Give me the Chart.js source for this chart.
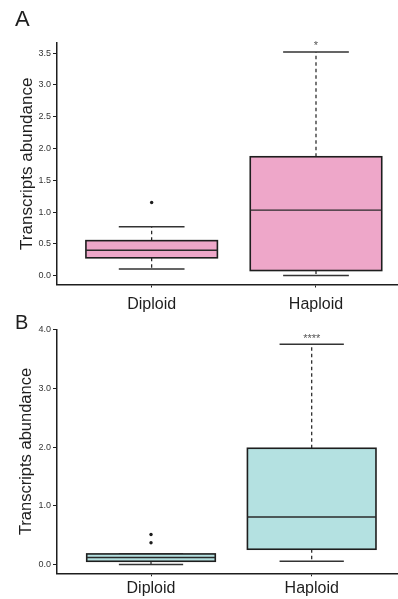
<!DOCTYPE html>
<html>
<head>
<meta charset="utf-8">
<script src="https://cdn.jsdelivr.net/npm/chart.js@4.4.1/dist/chart.umd.min.js"></script>
<style>
  html, body { margin: 0; padding: 0; background: #ffffff; }
  #wrap { position: relative; width: 398px; height: 599px; overflow: hidden; }
  canvas { position: absolute; left: 0; }
  #cA { top: 0; }
  #cB { top: 312px; }
</style>
</head>
<body>
<div id="wrap">
  <canvas id="cA" width="398" height="312"></canvas>
  <canvas id="cB" width="398" height="287"></canvas>
</div>
<script>
// Groups shown on the x axis
const categories = ['Diploid', 'Haploid'];

// Panel A: box-plot summaries per group
const aLow    = [0.105, 0.00];
const aQ1     = [0.28, 0.08];
const aMedian = [0.40, 1.03];
const aQ3     = [0.55, 1.87];
const aHigh   = [0.77, 3.52];
const aOutliers = [[1.15], []];
const aStars  = ['', '*'];
const aTicks  = [0.0, 0.5, 1.0, 1.5, 2.0, 2.5, 3.0, 3.5];

// Panel B: box-plot summaries per group
const bLow    = [0.00, 0.055];
const bQ1     = [0.055, 0.26];
const bMedian = [0.12, 0.81];
const bQ3     = [0.18, 1.98];
const bHigh   = [0.18, 3.75];
const bOutliers = [[0.51, 0.37], []];
const bStars  = ['', '****'];
const bTicks  = [0.0, 1.0, 2.0, 3.0, 4.0];

const FONT = "'Liberation Sans', Arial, Helvetica, sans-serif";
const INK = '#1e1e1e';

// Draws boxes, whiskers, caps, medians and significance stars from the summaries
function boxPlugin(id, s) {
  return {
    id: id,
    beforeDatasetsDraw(chart) {
      const { ctx, scales: { x, y } } = chart;
      const half = s.boxWidth / 2, capHalf = s.capWidth / 2;
      ctx.save();
      s.low.forEach((_, i) => {
        const pos = i + 1;
        const cx = x.getPixelForValue(pos);
        const bl = x.getPixelForValue(pos - half), br = x.getPixelForValue(pos + half);
        const cl = x.getPixelForValue(pos - capHalf), cr = x.getPixelForValue(pos + capHalf);
        const yLo = y.getPixelForValue(s.low[i]), yQ1 = y.getPixelForValue(s.q1[i]);
        const yMed = y.getPixelForValue(s.median[i]), yQ3 = y.getPixelForValue(s.q3[i]);
        const yHi = y.getPixelForValue(s.high[i]);

        // dashed whiskers
        ctx.strokeStyle = INK;
        ctx.lineWidth = 1.2;
        ctx.setLineDash([3.5, 3]);
        ctx.beginPath();
        ctx.moveTo(cx, yQ3); ctx.lineTo(cx, yHi);
        ctx.moveTo(cx, yQ1); ctx.lineTo(cx, yLo);
        ctx.stroke();
        ctx.setLineDash([]);

        // caps
        ctx.strokeStyle = '#333333';
        ctx.lineWidth = 1.5;
        ctx.beginPath();
        ctx.moveTo(cl, yHi); ctx.lineTo(cr, yHi);
        ctx.moveTo(cl, yLo); ctx.lineTo(cr, yLo);
        ctx.stroke();

        // box
        ctx.fillStyle = s.fill;
        ctx.fillRect(bl, yQ3, br - bl, yQ1 - yQ3);
        ctx.strokeStyle = INK;
        ctx.lineWidth = 1.6;
        ctx.strokeRect(bl, yQ3, br - bl, yQ1 - yQ3);

        // median
        ctx.lineWidth = 1.4;
        ctx.strokeStyle = '#2a2a2a';
        ctx.beginPath();
        ctx.moveTo(bl, yMed); ctx.lineTo(br, yMed);
        ctx.stroke();

        // significance marks
        if (s.stars[i]) {
          ctx.fillStyle = '#555555';
          ctx.font = '11px ' + FONT;
          ctx.textAlign = 'center';
          ctx.textBaseline = 'alphabetic';
          ctx.fillText(s.stars[i], cx, yHi - 2.5);
        }
      });
      ctx.restore();
    },
    afterDraw(chart) {
      // panel letter
      const ctx = chart.ctx;
      ctx.save();
      ctx.fillStyle = INK;
      ctx.font = s.letterSize + 'px ' + FONT;
      ctx.textAlign = 'left';
      ctx.textBaseline = 'alphabetic';
      ctx.fillText(s.letter, 15, s.letterBase);
      ctx.restore();
    }
  };
}

function outlierPoints(outliers) {
  const pts = [];
  outliers.forEach((vals, i) => vals.forEach(v => pts.push({ x: i + 1, y: v })));
  return pts;
}

function makePanel(canvasId, cfg) {
  return new Chart(document.getElementById(canvasId), {
    type: 'scatter',
    data: {
      datasets: [{
        data: outlierPoints(cfg.outliers),
        pointRadius: 1.7,
        pointBackgroundColor: INK,
        pointBorderWidth: 0,
        showLine: false
      }]
    },
    options: {
      responsive: false,
      animation: false,
      events: [],
      layout: { autoPadding: false, padding: { top: cfg.padTop, left: 0, right: 0, bottom: 0 } },
      plugins: { legend: { display: false }, tooltip: { enabled: false } },
      scales: {
        x: {
          type: 'linear',
          min: cfg.xMin,
          max: cfg.xMax,
          afterBuildTicks: sc => { sc.ticks = categories.map((c, i) => ({ value: i + 1 })); },
          afterFit: sc => { sc.height = cfg.xHeight; },
          ticks: {
            callback: v => categories[Math.round(v) - 1],
            font: { size: 16, family: FONT },
            color: INK,
            padding: cfg.xPad,
            autoSkip: false,
            maxRotation: 0
          },
          grid: { drawOnChartArea: false, drawTicks: true, tickLength: 3, color: INK, lineWidth: 1 },
          border: { display: true, color: INK, width: 1.5 }
        },
        y: {
          min: cfg.yMin,
          max: cfg.yMax,
          afterBuildTicks: sc => { sc.ticks = cfg.yTicks.map(v => ({ value: v })); },
          afterFit: sc => { sc.width = 57; },
          ticks: {
            callback: v => v.toFixed(1),
            font: { size: 9, family: FONT },
            color: '#333333',
            padding: 2
          },
          grid: { drawOnChartArea: false, drawTicks: true, tickLength: 4, color: INK, lineWidth: 1 },
          border: { display: true, color: INK, width: 1.5 },
          title: {
            display: true,
            text: 'Transcripts abundance',
            font: { size: cfg.titleSize, family: FONT },
            color: INK,
            padding: { top: 17, bottom: 0 }
          }
        }
      }
    },
    plugins: [boxPlugin(canvasId + 'Boxes', {
      low: cfg.low, q1: cfg.q1, median: cfg.median, q3: cfg.q3, high: cfg.high,
      stars: cfg.stars, fill: cfg.fill, boxWidth: 0.8, capWidth: 0.4,
      letter: cfg.letter, letterSize: cfg.letterSize, letterBase: cfg.letterBase
    })]
  });
}

makePanel('cA', {
  low: aLow, q1: aQ1, median: aMedian, q3: aQ3, high: aHigh,
  outliers: aOutliers, stars: aStars, yTicks: aTicks,
  fill: '#eea7c9',
  xMin: 0.424, xMax: 2.499, yMin: -0.14, yMax: 3.66,
  padTop: 43, xHeight: 27.5, xPad: 7, titleSize: 17,
  letter: 'A', letterSize: 22, letterBase: 26
});

makePanel('cB', {
  low: bLow, q1: bQ1, median: bMedian, q3: bQ3, high: bHigh,
  outliers: bOutliers, stars: bStars, yTicks: bTicks,
  fill: '#b4e1e1',
  xMin: 0.415, xMax: 2.537, yMin: -0.15, yMax: 4.0,
  padTop: 17.7, xHeight: 25.7, xPad: 3, titleSize: 16.5,
  letter: 'B', letterSize: 20, letterBase: 17
});
</script>
</body>
</html>
